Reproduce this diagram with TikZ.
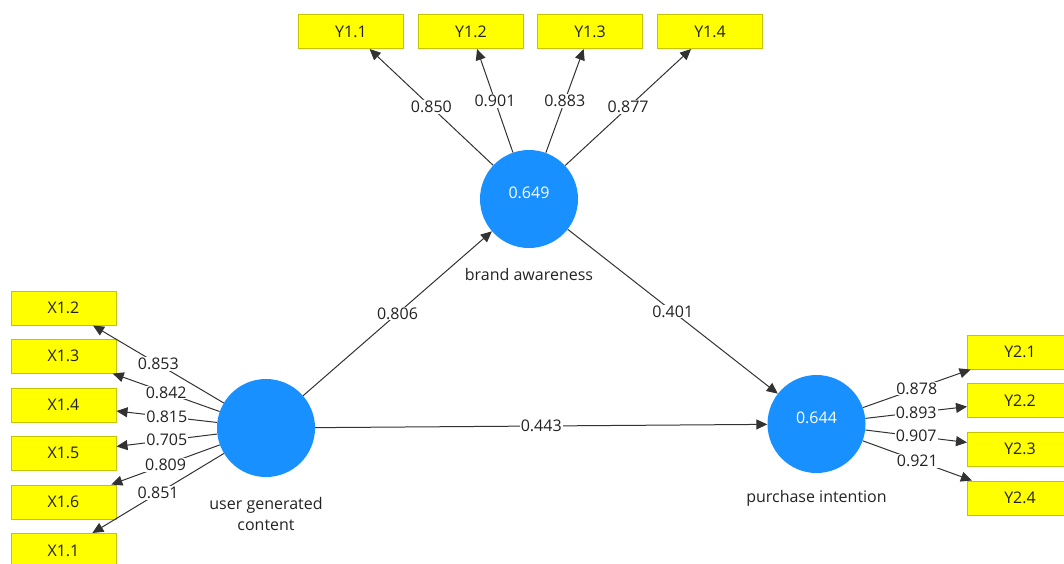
\documentclass[tikz,border=0pt]{standalone}
\usepackage{fontspec}
\setmainfont{Open Sans}
\usetikzlibrary{arrows.meta}
\definecolor{lvblue}{RGB}{24,144,255}
\definecolor{indfill}{RGB}{255,255,0}
\definecolor{indborder}{RGB}{196,196,0}
\definecolor{linkgray}{RGB}{50,50,50}
\definecolor{txt}{RGB}{35,35,35}
\begin{document}
\begin{tikzpicture}[x=1pt,y=-1pt,
  ind/.style={draw=indborder, line width=1pt, fill=indfill, minimum width=105pt,
    minimum height=34pt, inner sep=0pt, text=txt, font=\fontsize{16}{19}\selectfont},
  lv/.style={circle, fill=lvblue, minimum size=98pt, inner sep=0pt},
  lvval/.style={text=white, font=\fontsize{16}{19}\selectfont},
  lvname/.style={text=txt, align=center, font=\fontsize{16}{21}\selectfont},
  link/.style={draw=linkgray, line width=1pt, -{Triangle[length=11pt,width=10pt]}},
  w/.style={fill=white, inner sep=1pt, text=txt, pos=0.5, font=\fontsize{16}{19}\selectfont}
]
\useasboundingbox (0,0) rectangle (1064,563);
\clip (0,0) rectangle (1064,563);

% latent variables
\node[lv] (ugc) at (266,428) {};
\node[lv] (ba)  at (529,199) {};
\node[lv] (pi)  at (816.5,424) {};
\node[lvval] (baval) at (529,193) {0.649};
\node[lvval] (pival) at (816.5,418) {0.644};
\node[lvname] (ugcname) at (266,514) {user generated\\content};
\node[lvname] (baname)  at (529,274) {brand awareness};
\node[lvname] (piname)  at (816.5,498) {purchase intention};

% indicators of brand awareness
\node[ind] (y11) at (351,31.5) {Y1.1};
\node[ind] (y12) at (471,31.5) {Y1.2};
\node[ind] (y13) at (590,31.5) {Y1.3};
\node[ind] (y14) at (710,31.5) {Y1.4};

% indicators of user generated content
\node[ind] (x12) at (63.5,308) {X1.2};
\node[ind] (x13) at (63.5,356) {X1.3};
\node[ind] (x14) at (63.5,405) {X1.4};
\node[ind] (x15) at (63.5,453) {X1.5};
\node[ind] (x16) at (63.5,502) {X1.6};
\node[ind] (x11) at (63.5,550.5) {X1.1};

% indicators of purchase intention
\node[ind] (y21) at (1020,352) {Y2.1};
\node[ind] (y22) at (1020,400.5) {Y2.2};
\node[ind] (y23) at (1020,449) {Y2.3};
\node[ind] (y24) at (1020,498) {Y2.4};

% outer loadings
\draw[link] (ba) -- node[w] {0.850} (y11);
\draw[link] (ba) -- node[w] {0.901} (y12);
\draw[link] (ba) -- node[w] {0.883} (y13);
\draw[link] (ba) -- node[w] {0.877} (y14);

\draw[link] (ugc) -- node[w] {0.853} (x12);
\draw[link] (ugc) -- node[w] {0.842} (x13);
\draw[link] (ugc) -- node[w] {0.815} (x14);
\draw[link] (ugc) -- node[w] {0.705} (x15);
\draw[link] (ugc) -- node[w] {0.809} (x16);
\draw[link] (ugc) -- node[w] {0.851} (x11);

\draw[link] (pi) -- node[w] {0.878} (y21);
\draw[link] (pi) -- node[w] {0.893} (y22);
\draw[link] (pi) -- node[w] {0.907} (y23);
\draw[link] (pi) -- node[w] {0.921} (y24);

% path coefficients
\draw[link] (ugc) -- node[w] {0.806} (ba);
\draw[link] (ba)  -- node[w] {0.401} (pi);
\draw[link] (ugc) -- node[w] {0.443} (pi);
\end{tikzpicture}
\end{document}
